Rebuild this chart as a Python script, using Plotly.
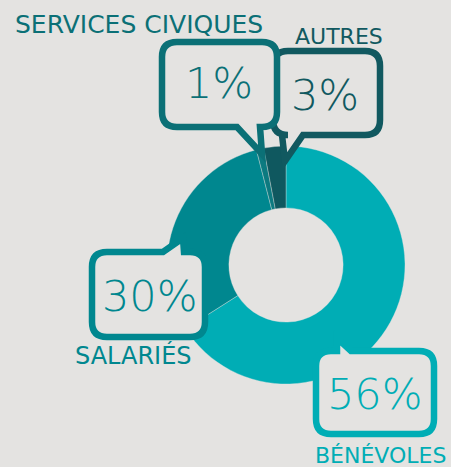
import plotly.graph_objects as go

# Data
categories = ["BÉNÉVOLES", "SALARIÉS", "SERVICES CIVIQUES", "AUTRES"]
slice_sizes = [66, 30, 1, 3]          # angular share as drawn
pct_labels = ["56%", "30%", "1%", "3%"]  # printed values
colors = ["#00ADB5", "#00878F", "#0C7A80", "#0F585F"]
label_colors = ["#00ADB5", "#00878F", "#0B7076", "#115960"]

W, H = 451, 467
BG = "#E4E3E1"

def px(x):
    return x / W

def py(y):
    return 1 - y / H

fig = go.Figure()
cx, cy, R = 286, 265, 119
fig.add_trace(go.Pie(
    values=slice_sizes, labels=categories, sort=False, direction="clockwise",
    rotation=0, hole=0.48, textinfo="none", hoverinfo="skip", showlegend=False,
    marker=dict(colors=colors, line=dict(color="rgba(228,227,225,0.6)", width=0.6)),
    domain=dict(x=[px(cx - R), px(cx + R)], y=[py(cy + R), py(cy - R)]),
))

# invisible pixel axes for callouts
fig.update_xaxes(range=[0, W], visible=False, domain=[0, 1], fixedrange=True)
fig.update_yaxes(range=[H, 0], visible=False, domain=[0, 1], fixedrange=True)
fig.add_trace(go.Scatter(x=[0, W], y=[0, H], mode="markers", marker=dict(opacity=0),
                         hoverinfo="skip", showlegend=False))


def bubble(x0, y0, x1, y1, r, tail):
    side, a, tip, b = tail
    p = f"M {x0+r},{y0} "
    if side == "top":
        p += f"L {a[0]},{a[1]} L {tip[0]},{tip[1]} L {b[0]},{b[1]} "
    p += f"L {x1-r},{y0} Q {x1},{y0} {x1},{y0+r} L {x1},{y1-r} Q {x1},{y1} {x1-r},{y1} "
    if side == "bottom":
        p += f"L {b[0]},{b[1]} L {tip[0]},{tip[1]} L {a[0]},{a[1]} "
    p += f"L {x0+r},{y1} Q {x0},{y1} {x0},{y1-r} L {x0},{y0+r} Q {x0},{y0} {x0+r},{y0} Z"
    return p


bubbles = [
    (273, 51, 380, 135, 15, ("bottom", (282, 135), (285, 161), (303, 135)), label_colors[3]),
    (162, 42, 277, 127, 15, ("bottom", (237, 127), (262, 154), (260, 127)), label_colors[2]),
    (92, 252, 205, 337, 15, ("top", (163, 252), (183, 238), (184, 252)), label_colors[1]),
    (316, 351, 434, 434, 15, ("top", (337, 351), (337, 338), (351, 351)), label_colors[0]),
]
for x0, y0, x1, y1, r, tail, c in bubbles:
    fig.add_shape(type="path", path=bubble(x0, y0, x1, y1, r, tail), xref="x", yref="y",
                  line=dict(color=c, width=6.5), fillcolor=BG, layer="above")

PFONT = "DejaVu Sans"
pct_pos = [(375, 394), (150, 296), (219, 83), (325, 95)]
for (x, y), t, c in zip(pct_pos, pct_labels, label_colors):
    fig.add_annotation(x=x, y=y, xref="x", yref="y", text=t, showarrow=False,
                       font=dict(family=PFONT, size=43, color=c, weight=200),
                       xanchor="center", yanchor="middle")

name_pos = [(380, 455, "center", 22), (133, 355, "center", 24), (13, 24, "left", 25), (339, 36, "center", 22)]
for (x, y, xa, s), t, c in zip(name_pos, categories, label_colors):
    fig.add_annotation(x=x, y=y, xref="x", yref="y", text=t, showarrow=False,
                       font=dict(family="DejaVu Sans", size=s, color=c, weight=400),
                       xanchor=xa, yanchor="middle")

fig.update_layout(width=W, height=H, margin=dict(l=0, r=0, t=0, b=0),
                  paper_bgcolor=BG, plot_bgcolor=BG)
fig.write_html("out.html", post_script="document.body.style.margin='0';",
               config={"displayModeBar": False, "staticPlot": True})
